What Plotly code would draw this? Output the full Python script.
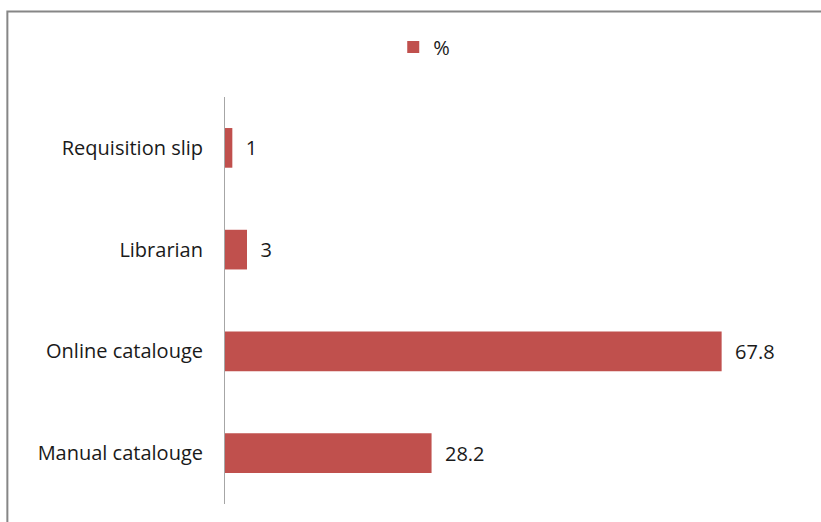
import plotly.graph_objects as go

# Ways users locate documents (percentage of respondents)
categories = ["Manual catalouge", "Online catalouge", "Librarian", "Requisition slip"]
percent = [28.2, 67.8, 3, 1]
series_name = "%"

bar_color = "#C0504D"
font_family = "Open Sans, Lato, sans-serif"
font_size = 20

fig = go.Figure()
fig.add_trace(go.Bar(
    y=categories,
    x=percent,
    orientation="h",
    name=series_name,
    marker=dict(color=bar_color, line=dict(width=0)),
    text=[f"{v:g}" for v in percent],
    texttemplate="  %{text}",
    textposition="outside",
    textfont=dict(family=font_family, size=font_size, color="#1a1a1a"),
    cliponaxis=False,
    showlegend=True,
))

fig.update_layout(
    width=821,
    height=522,
    margin=dict(l=225, r=10, t=97, b=18),
    paper_bgcolor="white",
    plot_bgcolor="white",
    bargap=0.61,
    font=dict(family=font_family, size=font_size, color="#1a1a1a"),
    showlegend=True,
    legend=dict(
        orientation="h",
        x=0.34,
        xanchor="center",
        y=1.123,
        yanchor="middle",
        font=dict(size=font_size),
        itemwidth=30,
        bgcolor="rgba(0,0,0,0)",
    ),
    xaxis=dict(
        range=[0, 80],
        visible=False,
        showgrid=False,
        zeroline=False,
        fixedrange=True,
    ),
    yaxis=dict(
        showline=True,
        linecolor="#A6A6A6",
        linewidth=1,
        ticks="",
        showgrid=False,
        zeroline=False,
        ticklabelstandoff=17,
        tickfont=dict(size=font_size),
    ),
    shapes=[
        # outer chart frame
        dict(
            type="rect",
            xref="paper", yref="paper",
            x0=-0.3714, x1=2.0, y0=-1.0, y1=1.210,
            line=dict(color="#868686", width=2),
            fillcolor="rgba(0,0,0,0)",
            layer="below",
        )
    ],
)

fig.write_html("out.html")
